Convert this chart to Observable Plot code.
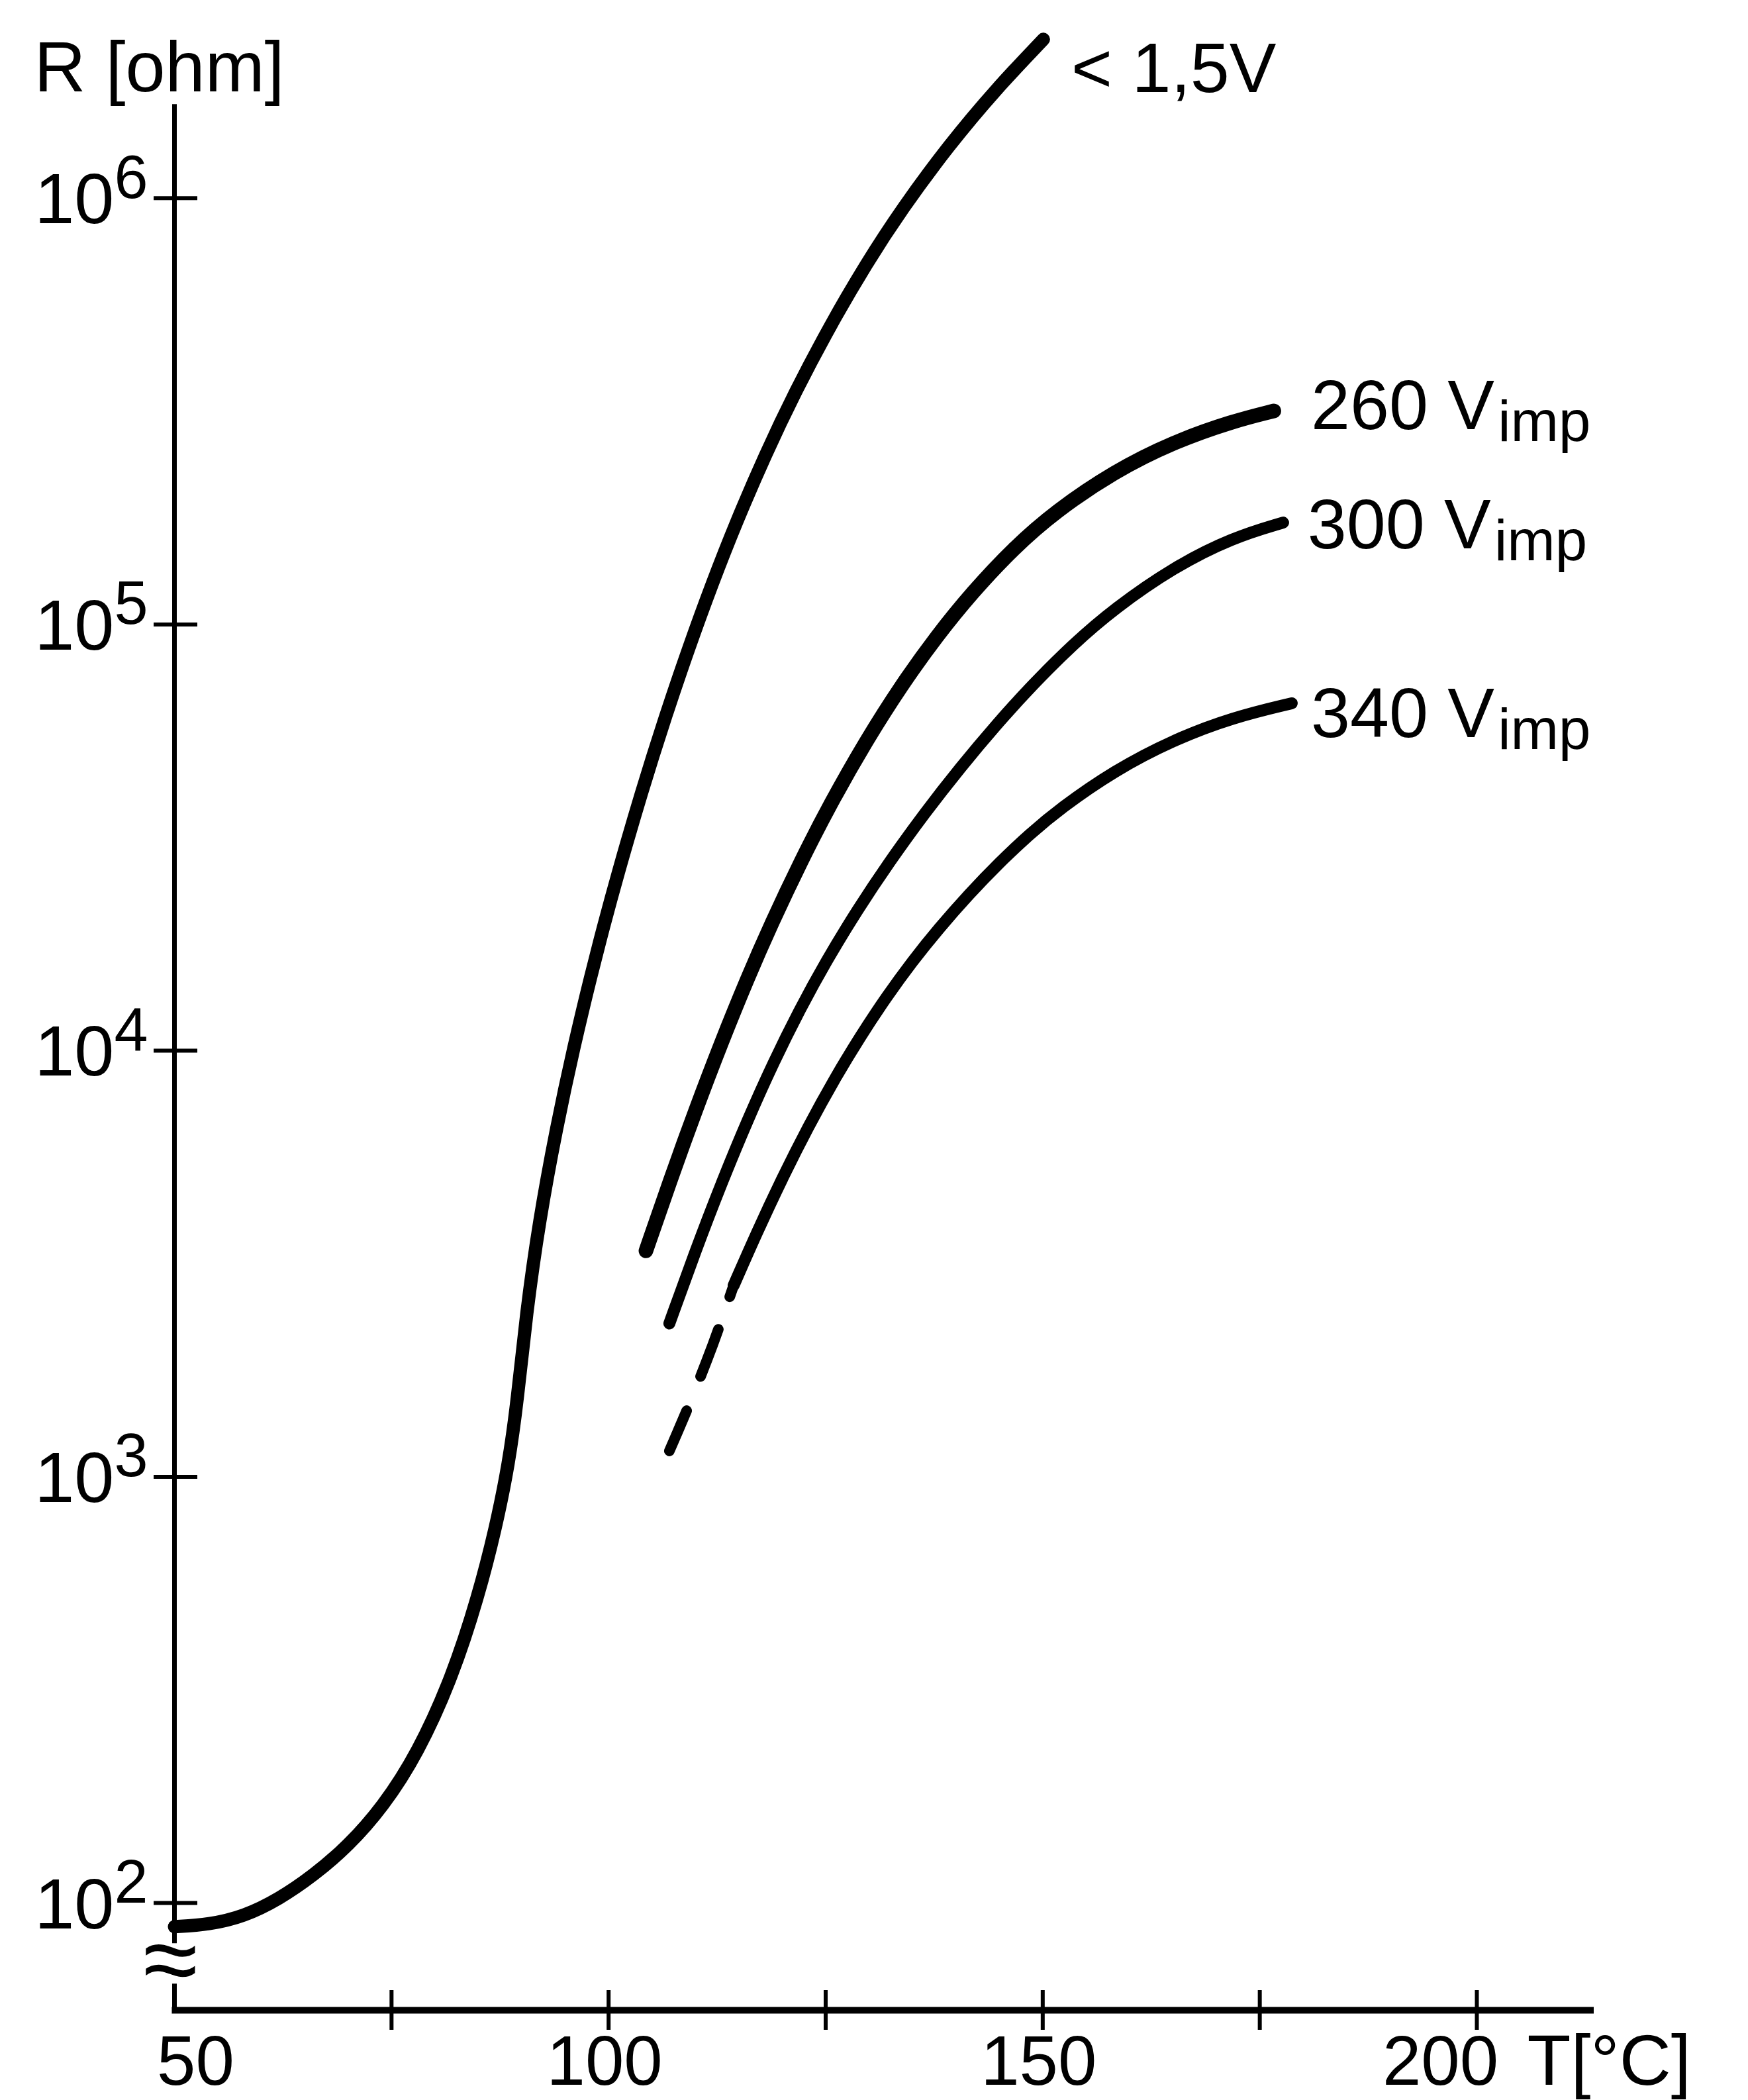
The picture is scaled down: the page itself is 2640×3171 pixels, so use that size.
<!DOCTYPE html>
<html>
<head>
<meta charset="utf-8">
<script src="https://cdn.jsdelivr.net/npm/d3@7"></script>
<script src="https://cdn.jsdelivr.net/npm/@observablehq/plot@0.6"></script>
<style>
  html, body { margin: 0; padding: 0; background: #fff; }
  #chart svg { display: block; }
</style>
</head>
<body>
<div id="chart"></div>
<script>
// ---------- data ----------
// Temperature T [°C] and resistance R [ohm]

// "< 1,5V" curve
const lowT = [50.0, 54, 58, 62, 66, 70, 74, 78, 82, 85, 87, 88.5, 89.5, 90.5, 92, 94, 96, 98, 99.35, 101.03, 103.78, 106.52, 109.19, 111.94, 114.68, 118.04, 121.47, 125.59, 129.63, 133.75, 139.17, 144.66, 150.08];
const lowR = [88, 89, 93, 102, 116, 136, 168, 224, 339, 525, 759, 1072, 1514, 2400, 3981, 6607, 10230, 15100, 19320, 25880, 40360, 60670, 87700, 125000, 173400, 250000, 350800, 505800, 699800, 941900, 1330000, 1807000, 2360000];

// "260 Vimp" curve
const v260T = [104.3, 107, 110, 113, 116, 118.73, 122.16, 125.59, 129.63, 133.75, 137.8, 141.91, 146.64, 151.45, 158.24, 165.03, 171.89, 176.62];
const v260R = [3390, 4900, 7240, 10470, 14790, 19820, 27860, 38110, 53210, 72110, 93970, 119100, 151000, 184100, 228600, 267900, 299900, 316900];

// "300 Vimp" curve
const v300T = [107.0, 110, 113, 116, 119, 122, 125, 128.64, 132.38, 136.42, 140.54, 144.66, 148.71, 153.51, 158.24, 165.03, 171.89, 177.69];
const v300R = [2290, 3388, 4887, 6871, 9397, 12470, 16140, 21380, 27800, 36140, 46240, 58210, 71780, 89950, 108900, 136100, 160000, 173400];

// "340 Vimp" curve (solid part)
const v340T = [114.4, 117, 120, 123, 126, 129, 132, 135, 138, 141.5, 145, 148.5, 152, 158.24, 165.03, 171.89, 178.68];
const v340R = [2810, 3715, 5023, 6637, 8570, 10810, 13370, 16220, 19320, 23280, 27610, 32210, 36980, 45390, 53580, 60530, 65310];

// "340 Vimp" curve (dashed extrapolation)
const v340DashT = [107.0, 109.5, 112.0, 114.4];
const v340DashR = [1150, 1514, 2042, 2810];

// curve labels (placed in data space)
const labelTexts = ["< 1,5V", "260 V_imp", "300 V_imp", "340 V_imp"];
const labelT = [153.3, 180.9, 180.5, 180.9];
const labelR = [1778000, 287100, 150700, 54330];

// axes
const yTickValues = [1e2, 1e3, 1e4, 1e5, 1e6];
const yTickLabels = ["10^2", "10^3", "10^4", "10^5", "10^6"];
const xTickValues = [75, 100, 125, 150, 175, 200];
const xLabelValues = [50, 100, 150, 200];
const xLabelTexts = ["50", "100", "150", "200"];
const xTitle = "T[°C]";
const yTitle = "R [ohm]";

// ---------- chart ----------
const rows = (T, R) => T.map((t, i) => ({T: t, R: R[i]}));
const lg = (e) => Math.pow(10, e);
const yMin = lg(1.7483);
const yMax = lg(6.41);
const xMin = 50, xMax = 213.5;

const yTicks = yTickValues.map((v, i) => ({R: v, label: yTickLabels[i]}));
const xLabels = xLabelValues.map((v, i) => ({T: v, label: xLabelTexts[i]}));
const curveLabels = labelTexts.map((t, i) => ({T: labelT[i], R: labelR[i], label: t}));

const font = "'Liberation Sans', Arimo, Arial, sans-serif";
const lineStyle = {x: "T", y: "R", stroke: "black", curve: "basis", strokeLinecap: "round", strokeLinejoin: "round"};
const xLabelStyle = {x: "T", y: yMin, text: "label", textAnchor: "middle", lineAnchor: "bottom", dy: 112, fontSize: 105};

const chart = Plot.plot({
  width: 2640,
  height: 3171,
  marginLeft: 263,
  marginRight: 233,
  marginTop: 35,
  marginBottom: 136,
  x: {domain: [xMin, xMax], axis: null},
  y: {type: "log", domain: [yMin, yMax], axis: null},
  style: {background: "white", fontFamily: font, color: "black"},
  marks: [
    // y axis line (with break near the origin)
    Plot.ruleX([xMin], {y1: lg(1.905), y2: lg(6.22), stroke: "black", strokeWidth: 7}),
    Plot.ruleX([xMin], {y1: yMin, y2: lg(1.81), stroke: "black", strokeWidth: 7}),
    // x axis line
    Plot.ruleY([yMin], {x1: xMin - 0.27, x2: xMax, stroke: "black", strokeWidth: 10}),
    // y ticks (crossing the axis)
    Plot.ruleY(yTicks, {y: "R", x1: 47.64, x2: 52.67, stroke: "black", strokeWidth: 6}),
    // x ticks (crossing the axis)
    Plot.ruleX(xTickValues, {x: d => d, y1: lg(1.7017), y2: lg(1.7949), stroke: "black", strokeWidth: 6}),
    // axis break mark
    Plot.text([yTitle], {x: xMin, y: lg(1.862), text: () => "≈", fontSize: 150, textAnchor: "middle", lineAnchor: "middle", dx: -6}),
    // y tick labels
    Plot.text(yTicks, {x: xMin, y: "R", text: "label", textAnchor: "end", lineAnchor: "bottom", dx: -40, dy: 38, fontSize: 108}),
    // x tick labels
    Plot.text(xLabels.filter(d => d.T === 50), {...xLabelStyle, dx: 32}),
    Plot.text(xLabels.filter(d => d.T === 100 || d.T === 150), {...xLabelStyle, dx: -6}),
    Plot.text(xLabels.filter(d => d.T === 200), {...xLabelStyle, dx: -55}),
    // axis titles
    Plot.text([xTitle], {x: 200, y: yMin, text: d => d, textAnchor: "start", lineAnchor: "bottom", dx: 76, dy: 112, fontSize: 108}),
    Plot.text([yTitle], {x: xMin, y: lg(6.25), text: d => d, textAnchor: "start", lineAnchor: "bottom", dx: -212, fontSize: 108}),
    // curves
    Plot.line(rows(lowT, lowR), {...lineStyle, strokeWidth: 20}),
    Plot.line(rows(v260T, v260R), {...lineStyle, strokeWidth: 22}),
    Plot.line(rows(v300T, v300R), {...lineStyle, strokeWidth: 18}),
    Plot.line(rows(v340T, v340R), {...lineStyle, strokeWidth: 18}),
    Plot.line(rows(v340DashT, v340DashR), {...lineStyle, curve: "catmull-rom", strokeWidth: 16, strokeDasharray: "66,56,76,52,200"}),
    // curve labels
    Plot.text(curveLabels, {x: "T", y: "R", text: "label", textAnchor: "start", lineAnchor: "bottom", fontSize: 106})
  ]
});

// superscripts for 10^n and subscripts for V_imp
d3.select(chart).selectAll("text").each(function () {
  const t = this.textContent;
  let m = t.match(/^10\^(\d)$/);
  if (m) {
    this.textContent = "10";
    d3.select(this).append("tspan").attr("font-size", "85%").attr("dy", "-0.42em").text(m[1]);
    return;
  }
  m = t.match(/^(.*V)_imp$/);
  if (m) {
    this.textContent = m[1];
    d3.select(this).append("tspan").attr("font-size", "82%").attr("dy", "0.2em").attr("dx", "0.06em").text("imp");
  }
});

document.getElementById("chart").appendChild(chart);
</script>
</body>
</html>
